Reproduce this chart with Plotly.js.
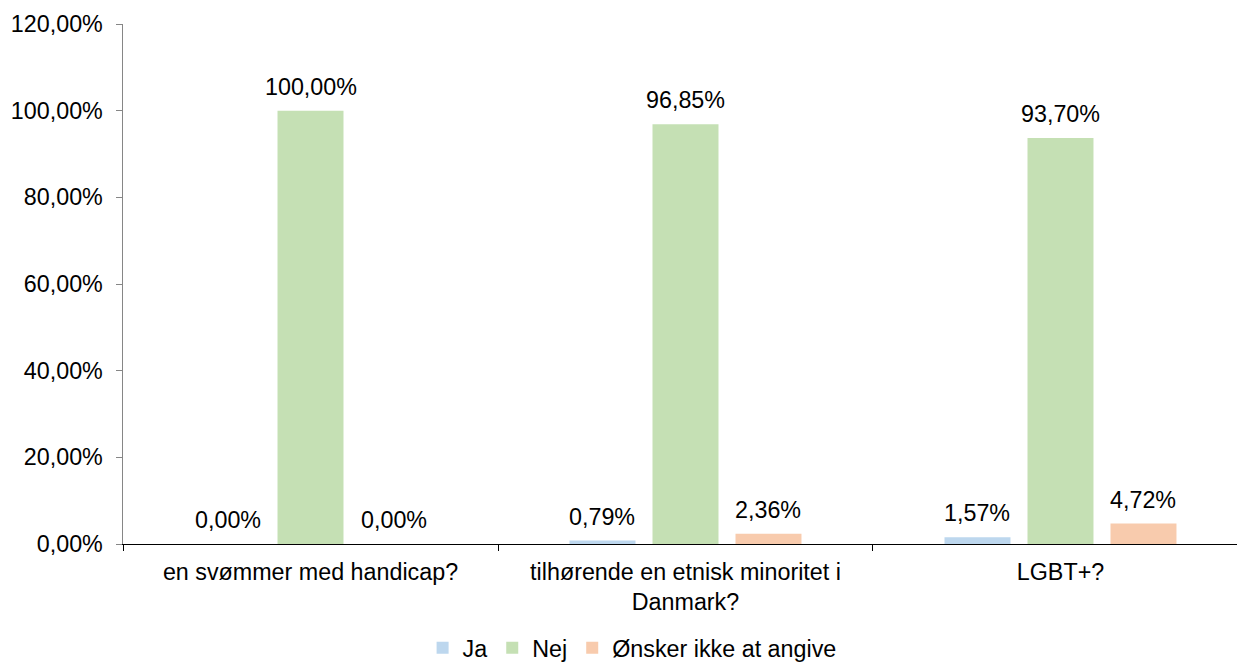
<!DOCTYPE html>
<html><head><meta charset="utf-8">
<script src="https://cdn.plot.ly/plotly-3.0.1.min.js"></script>
<style>html,body{margin:0;padding:0;background:#fff}</style>
</head><body>
<div id="chart" style="width:1237px;height:662px"></div>
<script>
const categories = ["en svømmer med handicap?", "tilhørende en etnisk minoritet i<br>Danmark?", "LGBT+?"];
const seriesNames = ["Ja", "Nej", "Ønsker ikke at angive"];
const ja = [0.00, 0.79, 1.57];
const nej = [100.00, 96.85, 93.70];
const onsker = [0.00, 2.36, 4.72];
const seriesColors = ["#BDD7EE", "#C5E0B4", "#F8CBAD"];
const yTicks = [0, 20, 40, 60, 80, 100, 120];

const values = [ja, nej, onsker];
const fmt = v => v.toFixed(2).replace('.', ',') + '%';
const font = "Liberation Sans, Arial, sans-serif";
const fs = 23.3;

const traces = values.map((vals, j) => ({
  type: 'bar',
  name: seriesNames[j],
  x: categories,
  y: vals,
  marker: {color: seriesColors[j]},
  hoverinfo: 'none'
}));

const bargap = 0.336, bargroupgap = 0.205;
const slot = (1 - bargap) / 3;
const annotations = [];
values.forEach((vals, j) => {
  vals.forEach((v, i) => {
    annotations.push({
      x: i + (j - 1) * slot, y: v, xref: 'x', yref: 'y',
      text: fmt(v), showarrow: false, yanchor: 'bottom', yshift: 9,
      font: {family: font, size: fs, color: '#000'}
    });
  });
});

const layout = {
  width: 1237, height: 662,
  margin: {l: 123, r: 0, t: 24, b: 118, autoexpand: false},
  paper_bgcolor: '#fff', plot_bgcolor: '#fff',
  barmode: 'group', bargap: bargap, bargroupgap: bargroupgap,
  separators: ',.',
  font: {family: font, size: fs, color: '#000'},
  showlegend: true,
  legend: {orientation: 'h', x: 0.457, xanchor: 'center', y: -0.2, yanchor: 'middle',
           font: {family: font, size: fs, color: '#000'}, itemwidth: 30, traceorder: 'normal'},
  xaxis: {
    type: 'category', range: [-0.5, 2.4707],
    tickson: 'boundaries', ticks: 'outside', ticklen: 6, tickcolor: '#000', tickwidth: 1,
    showline: true, linecolor: '#000', linewidth: 1, showgrid: false, zeroline: false,
    tickfont: {family: font, size: fs, color: '#000'}, ticklabelstandoff: 7, fixedrange: true
  },
  yaxis: {
    range: [0, 120], tickmode: 'array', tickvals: yTicks,
    ticktext: yTicks.map(fmt),
    ticks: 'outside', ticklen: 6, tickcolor: '#868686', tickwidth: 1,
    showline: true, linecolor: '#868686', linewidth: 1.5, showgrid: false, zeroline: false,
    tickfont: {family: font, size: fs, color: '#000'}, ticklabelstandoff: 8, fixedrange: true
  },
  annotations: annotations
};

Plotly.newPlot('chart', traces, layout, {displayModeBar: false, staticPlot: true});
</script>
</body></html>
